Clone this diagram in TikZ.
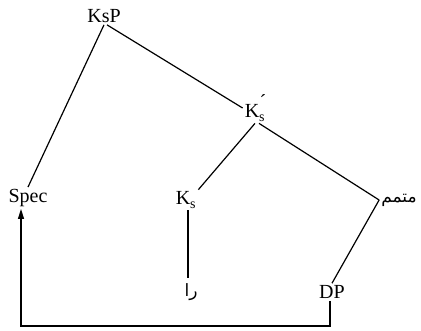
\documentclass[tikz,border=0pt]{standalone}
\usepackage{fontspec}
\setmainfont{Liberation Serif}
\newfontfamily\arabicfont[Script=Arabic]{DejaVu Sans}
\TeXXeTstate=1
\usetikzlibrary{arrows.meta}
\begin{document}
\begin{tikzpicture}[x=1pt,y=-1pt,
  lbl/.style={inner sep=2pt,font=\fontsize{20}{23}\selectfont},
  fa/.style={inner sep=2pt,font=\arabicfont\fontsize{17}{20}\selectfont},
  br/.style={line width=1.2pt}]
\useasboundingbox (0,0) rectangle (421,331);
\node[lbl] (KsP) at (104,16) {KsP};
\node[lbl] (Ksp) at (255,108) {K\textsubscript{s}\llap{\raisebox{1.0ex}{´\kern-1pt}}};
\node[lbl] (Spec) at (28,198) {Spec};
\node[lbl] (Ks) at (186,200) {K\textsubscript{s}};
\node[fa] (mot) at (399,200) {\beginR متمم\endR};
\node[fa] (ra) at (191,292) {\beginR را\endR};
\node[lbl] (DP) at (332,292) {DP};
\coordinate (bl) at (21,326);
\draw[br] (KsP.south) -- (Spec.north);
\draw[br] ([xshift=3pt]KsP.south) -- (Ksp.west);
\draw[br] (Ksp.south) -- (Ks.north east);
\draw[br] ([xshift=4pt]Ksp.south) -- (mot.west);
\draw[br] (mot.west) -- (DP.north);
\draw[br,shorten >=3pt] ([xshift=2pt]Ks.south) -- ([xshift=-3pt]ra.north);
\draw[br,-{Triangle[length=10pt,width=6pt]}] ([xshift=-2pt]DP.south) |- (bl) -- (bl |- Spec.south);
\end{tikzpicture}
\end{document}
